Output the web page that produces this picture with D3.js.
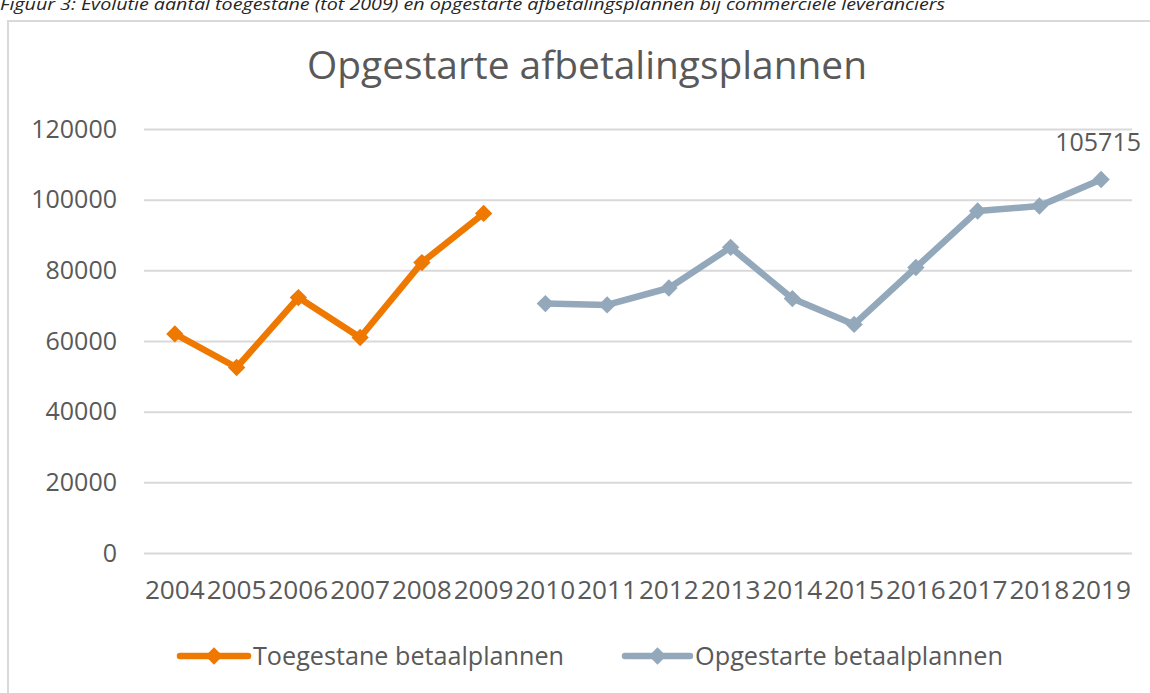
<!DOCTYPE html>
<html>
<head>
<meta charset="utf-8">
<script src="https://cdn.jsdelivr.net/npm/d3@7"></script>
<style>
  html, body { margin: 0; padding: 0; background: #fff; overflow: hidden; }
  svg { display: block; font-family: "Open Sans", "Noto Sans", sans-serif; }
</style>
</head>
<body>
<div id="chart"></div>
<script>
// Chart data
const years = ['2004', '2005', '2006', '2007', '2008', '2009', '2010', '2011',
  '2012', '2013', '2014', '2015', '2016', '2017', '2018', '2019'];
const toegestane = [62000, 52500, 72300, 61000, 82200, 96100,
  null, null, null, null, null, null, null, null, null, null];
const opgestarte = [null, null, null, null, null, null,
  70600, 70200, 75000, 86500, 72000, 64700, 80800, 96800, 98200, 105715];
const yTicks = [0, 20000, 40000, 60000, 80000, 100000, 120000];
const seriesNames = ['Toegestane betaalplannen', 'Opgestarte betaalplannen'];
const caption = 'Figuur 3: Evolutie aantal toegestane (tot 2009) en opgestarte afbetalingsplannen bij commerciële leveranciers';
const title = 'Opgestarte afbetalingsplannen';

const width = 1150, height = 693;
const margin = { top: 129, right: 18, bottom: 140, left: 144 };
const colors = ['#EE7800', '#93A9BB'];
const textColor = '#595959';

const svg = d3.select('#chart').append('svg')
  .attr('width', width)
  .attr('height', height);

// Figure caption (sits right at the top edge, as in the source document)
svg.append('text')
  .attr('x', 0)
  .attr('y', 10)
  .attr('font-size', 16)
  .attr('font-style', 'italic')
  .attr('fill', '#262626')
  .attr('textLength', 945)
  .attr('lengthAdjust', 'spacingAndGlyphs')
  .text(caption);

// Chart frame
svg.append('rect')
  .attr('x', 8)
  .attr('y', 21)
  .attr('width', width + 20)
  .attr('height', height + 20)
  .attr('fill', '#fff')
  .attr('stroke', '#D9D9D9')
  .attr('stroke-width', 2);

svg.append('text')
  .attr('x', 587)
  .attr('y', 79)
  .attr('text-anchor', 'middle')
  .attr('font-size', 38)
  .attr('fill', textColor)
  .attr('textLength', 560)
  .attr('lengthAdjust', 'spacingAndGlyphs')
  .text(title);

const innerW = width - margin.left - margin.right;
const yBottom = 553;

const x = d3.scaleBand().domain(years).range([margin.left, margin.left + innerW]).padding(0);
const y = d3.scaleLinear().domain([0, 120000]).range([yBottom, margin.top]);
const cx = d => x(d) + x.bandwidth() / 2;

// Gridlines + y labels
const yAxis = svg.append('g')
  .attr('transform', `translate(${margin.left},0)`)
  .call(d3.axisLeft(y).tickValues(yTicks).tickSize(-innerW).tickPadding(27).tickFormat(d3.format('d')))
  .call(g => g.select('.domain').remove());
yAxis.selectAll('.tick line').attr('stroke', '#D9D9D9').attr('stroke-width', 2);
yAxis.selectAll('.tick text')
  .attr('font-size', 25)
  .attr('font-family', '"Open Sans", sans-serif')
  .attr('fill', textColor);

// X labels
const xAxis = svg.append('g')
  .attr('transform', `translate(0,${yBottom})`)
  .call(d3.axisBottom(x).tickSize(0).tickPadding(28))
  .call(g => g.select('.domain').remove());
xAxis.selectAll('.tick text')
  .attr('font-size', 26)
  .attr('font-family', '"Open Sans", sans-serif')
  .attr('fill', textColor)
  .attr('textLength', 60)
  .attr('lengthAdjust', 'spacingAndGlyphs');

const line = d3.line()
  .defined(d => d.v != null)
  .x(d => cx(d.year))
  .y(d => y(d.v));

const diamond = d3.symbol().type(d3.symbolSquare).size(150);

[toegestane, opgestarte].forEach((vals, i) => {
  const pts = years.map((year, j) => ({ year, v: vals[j] }));
  svg.append('path')
    .datum(pts)
    .attr('fill', 'none')
    .attr('stroke', colors[i])
    .attr('stroke-width', 6.5)
    .attr('stroke-linejoin', 'round')
    .attr('d', line);
  svg.append('g').selectAll('path')
    .data(pts.filter(d => d.v != null))
    .join('path')
    .attr('transform', d => `translate(${cx(d.year)},${y(d.v)}) rotate(45)`)
    .attr('d', diamond)
    .attr('fill', colors[i]);
});

// Data label on last point
svg.append('text')
  .attr('x', cx('2019') - 3)
  .attr('y', y(105715) - 28)
  .attr('text-anchor', 'middle')
  .attr('font-size', 25)
  .attr('fill', textColor)
  .text(d3.format('d')(opgestarte[opgestarte.length - 1]));

// Legend
const legendY = 656;
const legendItems = [
  { name: seriesNames[0], x0: 180, x1: 248, len: 311 },
  { name: seriesNames[1], x0: 625, x1: 690, len: 308 }
];
legendItems.forEach((item, i) => {
  const g = svg.append('g');
  g.append('line')
    .attr('x1', item.x0).attr('x2', item.x1)
    .attr('y1', legendY).attr('y2', legendY)
    .attr('stroke', colors[i])
    .attr('stroke-width', 6.5)
    .attr('stroke-linecap', 'round');
  g.append('path')
    .attr('transform', `translate(${(item.x0 + item.x1) / 2},${legendY}) rotate(45)`)
    .attr('d', diamond)
    .attr('fill', colors[i]);
  g.append('text')
    .attr('x', item.x1 + 5)
    .attr('y', legendY)
    .attr('dy', '0.35em')
    .attr('font-size', 25)
    .attr('fill', textColor)
    .attr('textLength', item.len)
    .attr('lengthAdjust', 'spacingAndGlyphs')
    .text(item.name);
});
</script>
</body>
</html>
